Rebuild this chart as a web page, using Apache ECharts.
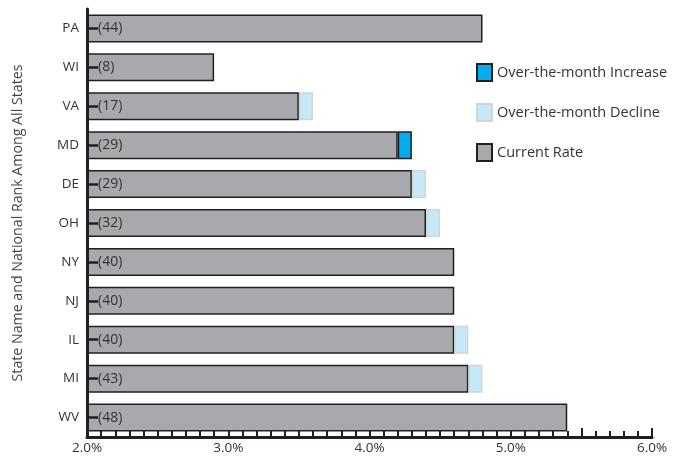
<!DOCTYPE html>
<html>
<head>
<meta charset="utf-8">
<script src="https://cdn.jsdelivr.net/npm/echarts@6/dist/echarts.min.js"></script>
<style>
  html, body { margin: 0; padding: 0; background: #fff; }
  #chart { width: 688px; height: 457px; }
</style>
</head>
<body>
<div id="chart"></div>
<script>
// states top to bottom, with national rank
const states = ['PA', 'WI', 'VA', 'MD', 'DE', 'OH', 'NY', 'NJ', 'IL', 'MI', 'WV']
const ranks = [44, 8, 17, 29, 29, 32, 40, 40, 40, 43, 48]

// rates in percent
const currentRate = [4.8, 2.9, 3.5, 4.2, 4.3, 4.4, 4.6, 4.6, 4.6, 4.7, 5.4]
const monthIncrease = [null, null, null, 0.1, null, null, null, null, null, null, null]
const monthDecline = [null, null, 0.1, null, 0.1, 0.1, null, null, 0.1, 0.1, null]

const xTicks = { min: 2, max: 6, interval: 0.5 }

const font = 'Open Sans'
const chart = echarts.init(document.getElementById('chart'))

chart.setOption({
  animation: false,
  textStyle: { fontFamily: font },
  legend: {
    orient: 'vertical',
    left: 471,
    top: 58,
    icon: 'rect',
    itemWidth: 15,
    itemHeight: 17,
    itemGap: 21,
    textStyle: { fontSize: 14.5, color: '#333', fontFamily: font },
    data: ['Over-the-month Increase', 'Over-the-month Decline', 'Current Rate']
  },
  grid: { left: 87, right: 36, top: 9, bottom: 20, containLabel: false },
  xAxis: {
    type: 'value',
    min: xTicks.min,
    max: xTicks.max,
    interval: xTicks.interval,
    splitLine: { show: false },
    axisLine: { show: true, lineStyle: { color: '#231f20', width: 3 } },
    axisTick: { show: true, inside: true, length: 9, lineStyle: { color: '#231f20', width: 2 } },
    minorTick: { show: true, splitNumber: 5, length: 6, lineStyle: { color: '#231f20', width: 2 } },
    axisLabel: {
      margin: 4,
      fontSize: 13.5,
      color: '#333',
      formatter: v => (Math.abs(v - Math.round(v)) < 1e-6 ? v.toFixed(1) + '%' : '')
    }
  },
  yAxis: [{
    type: 'category',
    inverse: true,
    data: states,
    z: 10,
    name: 'State Name and National Rank Among All States',
    nameLocation: 'middle',
    nameGap: 62,
    nameTextStyle: { fontSize: 14.2, color: '#444', fontFamily: font },
    axisLine: { show: true, lineStyle: { color: '#231f20', width: 3 } },
    axisTick: { show: true, inside: true, alignWithLabel: true, length: 11, lineStyle: { color: '#231f20', width: 2.5 } },
    axisLabel: { fontSize: 13.5, color: '#333', margin: 8 }
  }, {
    type: 'category',
    inverse: true,
    position: 'left',
    data: ranks.map(r => '(' + r + ')'),
    z: 11,
    axisLine: { show: false },
    axisTick: { show: false },
    axisLabel: { inside: true, margin: 11, fontSize: 14, color: '#333' }
  }],
  series: [{
    name: 'Current Rate',
    type: 'bar',
    stack: 'rate',
    barWidth: 28,
    data: currentRate,
    itemStyle: { color: '#a7a9ac', borderColor: '#231f20', borderWidth: 1.5 }
  }, {
    name: 'Over-the-month Increase',
    type: 'bar',
    stack: 'rate',
    barWidth: 28,
    data: monthIncrease,
    itemStyle: { color: '#00aeef', borderColor: '#231f20', borderWidth: 1.5 }
  }, {
    name: 'Over-the-month Decline',
    type: 'bar',
    stack: 'rate',
    barWidth: 28,
    data: monthDecline,
    itemStyle: { color: '#c6e9f8', borderColor: '#d4d4d4', borderWidth: 1.5 }
  }]
})
</script>
</body>
</html>
